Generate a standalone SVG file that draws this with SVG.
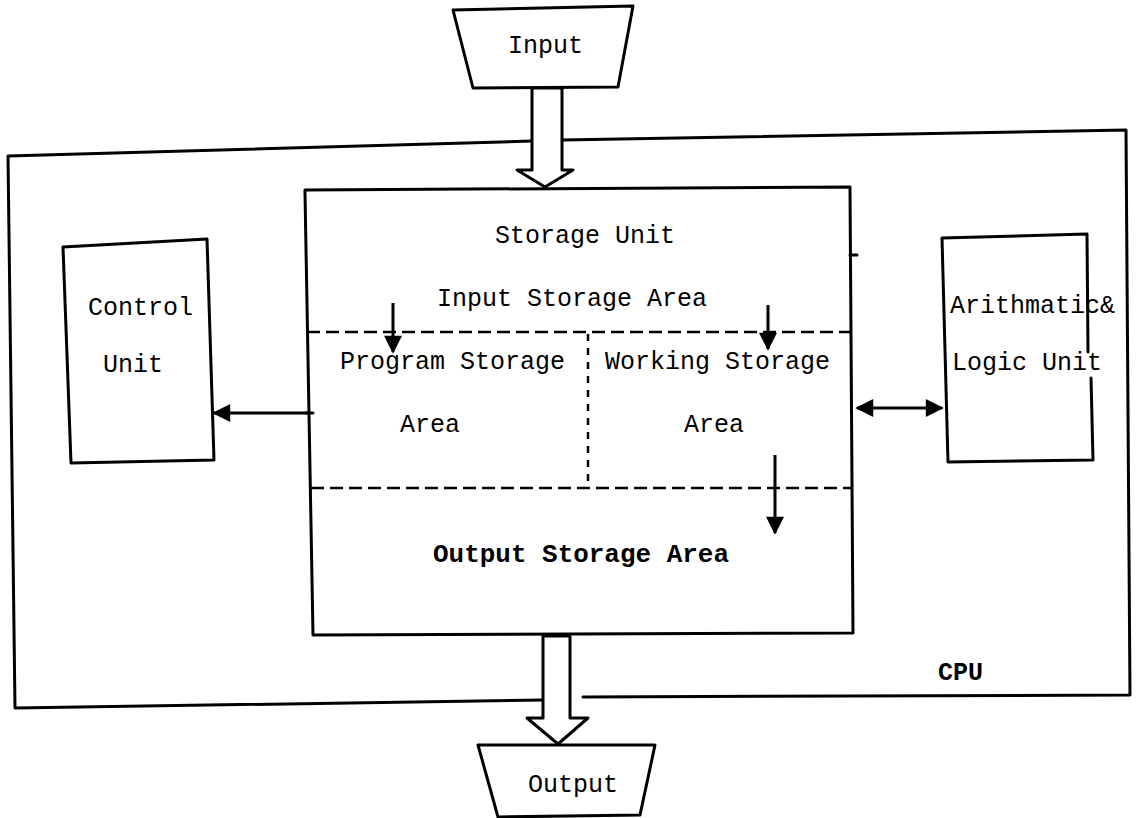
<svg xmlns="http://www.w3.org/2000/svg" width="1137" height="818" viewBox="0 0 1137 818">
  <defs>
    <style>
      .box { fill: none; stroke: #000; stroke-width: 3; stroke-linecap: round; stroke-linejoin: round; }
      .shape { fill: #fff; stroke: #000; stroke-width: 3; stroke-linejoin: round; }
      .dash { fill: none; stroke: #000; stroke-width: 2.5; stroke-dasharray: 13 6; }
      .dot { fill: none; stroke: #000; stroke-width: 2.5; stroke-dasharray: 7 7; }
      .conn { fill: none; stroke: #000; stroke-width: 3; }
      .t { font-family: "Liberation Mono", "DejaVu Sans Mono", monospace; font-size: 25px; fill: #000; }
      .b { font-weight: bold; }
    </style>
    <marker id="ah" viewBox="0 0 10 10" refX="9" refY="5" markerWidth="19" markerHeight="18" markerUnits="userSpaceOnUse" orient="auto-start-reverse">
      <path d="M0,0 L10,5 L0,10 z" fill="#000"/>
    </marker>
  </defs>
  <rect x="0" y="0" width="1137" height="818" fill="#fff"/>

  <g id="cpu">
    <path class="box" d="M532,141 L8,156 L15,708 L543,700"/>
    <path class="box" d="M562,140 L1126,130 L1130,695 L583,697"/>
    <text class="t b" x="938" y="680">CPU</text>
  </g>

  <g id="input">
    <polygon class="shape" points="453,10 633,6 618,87 473,88"/>
    <text class="t" x="508" y="53">Input</text>
  </g>

  <g id="output">
    <polygon class="shape" points="478,745 655,745 640,815 498,817"/>
    <text class="t" x="528" y="792">Output</text>
  </g>

  <g id="storage">
    <path class="box" d="M305,193 L305,190 L850,187 L853,633 L313,635 Z"/>
    <path class="box" d="M850,255 L857,255 M306,413 L313,413"/>
    <path class="dash" d="M307,332 L851,332"/>
    <path class="dash" d="M311,488 L853,488"/>
    <path class="dot" d="M588,334 L588,486"/>
    <text class="t" x="495" y="243">Storage Unit</text>
    <text class="t" x="437" y="306">Input Storage Area</text>
    <text class="t" x="340" y="369">Program Storage</text>
    <text class="t" x="605" y="369">Working Storage</text>
    <text class="t" x="400" y="432">Area</text>
    <text class="t" x="684" y="432">Area</text>
    <text class="t b" x="433" y="562" textLength="296" lengthAdjust="spacingAndGlyphs">Output Storage Area</text>
  </g>

  <g id="control-unit">
    <path class="box" d="M63,247 L207,239 L214,460 L71,463 Z"/>
    <text class="t" x="88" y="315">Control</text>
    <text class="t" x="103" y="372">Unit</text>
  </g>

  <g id="alu">
    <path class="box" d="M1088,352 L1087,234 L942,238 L948,462 L1093,460 L1091,378"/>
    <text class="t" x="950" y="313">Arithmatic&amp;</text>
    <text class="t" x="952" y="370">Logic Unit</text>
  </g>

  <g id="connectors">
    <polygon class="shape" points="532,88 532,170 517,170 545,187 573,170 562,170 562,88"/>
    <polygon class="shape" points="543,636 543,718 527,718 558,744 588,718 570,718 570,636"/>
    <line class="conn" x1="310" y1="413" x2="214" y2="413" marker-end="url(#ah)"/>
    <line class="conn" x1="857" y1="408" x2="942" y2="408" marker-start="url(#ah)" marker-end="url(#ah)"/>
    <line class="conn" x1="393" y1="303" x2="393" y2="352" marker-end="url(#ah)"/>
    <line class="conn" x1="768" y1="305" x2="768" y2="349" marker-end="url(#ah)"/>
    <line class="conn" x1="775" y1="455" x2="775" y2="533" marker-end="url(#ah)"/>
  </g>
</svg>
